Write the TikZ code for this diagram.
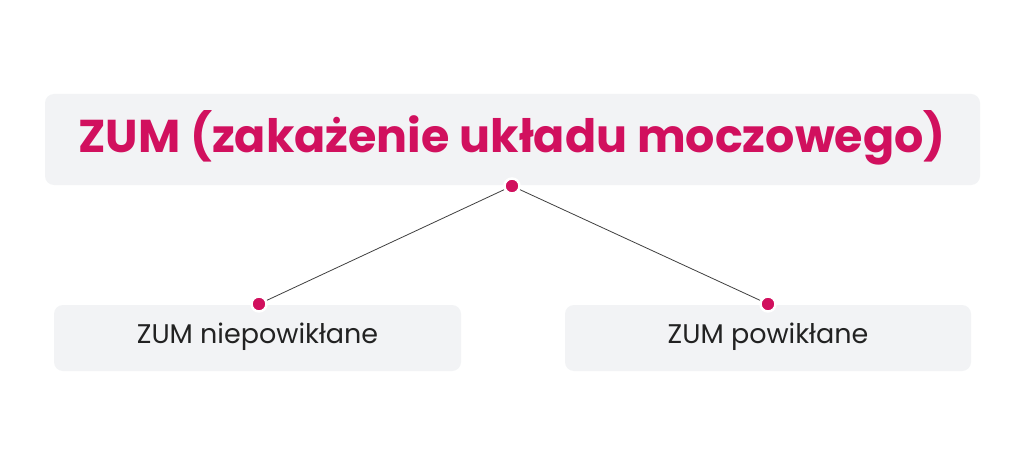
\documentclass[tikz,border=0pt]{standalone}
\usepackage{fontspec}
\setmainfont{Poppins}
\definecolor{boxbg}{HTML}{F2F3F5}
\definecolor{mag}{HTML}{D1105E}
\definecolor{txt}{HTML}{222222}
\begin{document}
\begin{tikzpicture}[x=1pt,y=-1pt,
  box/.style={fill=boxbg, rounded corners=9pt, draw=none},
  dotnode/.style={circle, fill=mag, draw=white, line width=2.5pt, inner sep=0pt, minimum size=15pt},
  link/.style={draw=black!75, line width=0.8pt}]
\useasboundingbox (0,0) rectangle (1024,465);
\fill[white] (0,0) rectangle (1024,465);
\path[box] (45,94) rectangle (980,185);
\path[box] (54,305) rectangle (461,371);
\path[box] (565,305) rectangle (971,371);
\node[text=mag, font=\fontsize{46}{50}\selectfont\bfseries] (title) at (512,138) {ZUM (zakażenie układu moczowego)};
\node[text=txt, font=\fontsize{27}{30}\selectfont] (left) at (257.5,337) {ZUM niepowikłane};
\node[text=txt, font=\fontsize{27}{30}\selectfont] (right) at (768,337) {ZUM powikłane};
\node[dotnode] (d0) at (512,186) {};
\node[dotnode] (d1) at (259,304) {};
\node[dotnode] (d2) at (768,304) {};
\draw[link] (d0) -- (d1);
\draw[link] (d0) -- (d2);
\end{tikzpicture}
\end{document}
